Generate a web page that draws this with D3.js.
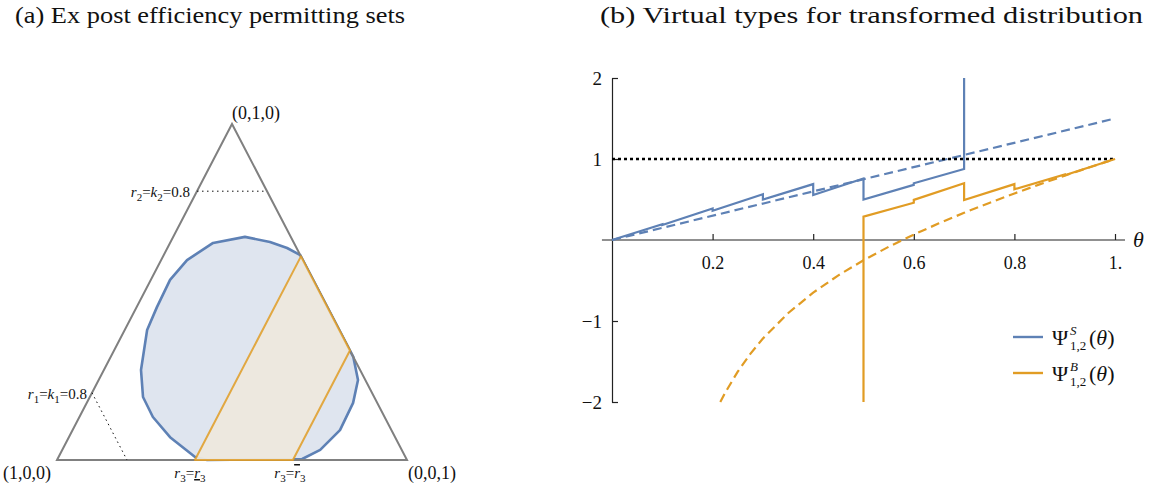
<!DOCTYPE html>
<html><head><meta charset="utf-8">
<script src="https://cdn.jsdelivr.net/npm/d3@7"></script>
<style>
body{margin:0;background:#fff}
svg{display:block}
text{font-family:"Liberation Serif","Times New Roman",serif;fill:#111}
</style>
</head><body>
<svg id="c" width="1152" height="491"></svg>
<script>
// ---------- data: panel (a) ----------
const titles = ["(a) Ex post efficiency permitting sets", "(b) Virtual types for transformed distribution"];
const vertices = [[1,0,0],[0,1,0],[0,0,1]];
const vertexLabels = ["(1,0,0)","(0,1,0)","(0,0,1)"];
// feasible blob in barycentric coordinates (r1, r2, r3)
const blob = [
  [0.13,0.664,0.205],[0.067,0.649,0.284],[0.027,0.631,0.342],[0,0.61,0.39],
  [0,0.47,0.53],[0,0.333,0.667],[0,0.307,0.693],[0.021,0.238,0.741],
  [0.069,0.170,0.761],[0.147,0.089,0.764],[0.233,0.030,0.737],[0.298,0.003,0.699],
  [0.571,0,0.429],[0.601,0.009,0.39],[0.643,0.068,0.289],[0.662,0.128,0.21],
  [0.66,0.1875,0.152],[0.626,0.268,0.106],[0.549,0.387,0.064],[0.487,0.455,0.058],
  [0.409,0.536,0.055],[0.331,0.595,0.074],[0.231,0.646,0.123]
];
const r3Low = 0.394, r3High = 0.674;
const kLevel = 0.8;

// ---------- data: panel (b) ----------
const thetaTicks = [0.2,0.4,0.6,0.8,1];
const thetaTickLabels = ["0.2","0.4","0.6","0.8","1."];
const yTicks = [-2,-1,1,2];
const yTickLabels = ["−2","−1","1","2"];
const efficiencyLine = [[0,1],[1,1]];
const sellerBenchmark = [[0,0],[1,1.5]];
const sellerVirtual = [
  [0,0],[0.1,0.195],[0.1,0.185],[0.2,0.39],[0.2,0.36],[0.3,0.565],[0.3,0.50],
  [0.4,0.69],[0.4,0.556],[0.5,0.76],[0.5,0.50],[0.6,0.68],[0.6,0.70],[0.7,0.877],[0.7,2.0]
];
const buyerVirtual = [
  [0.5,-2],[0.5,0.288],[0.6,0.46],[0.6,0.495],[0.7,0.70],[0.7,0.494],
  [0.8,0.69],[0.8,0.626],[0.9,0.81],[0.9,0.80],[1,1]
];
const buyerBenchmark = [
  [0.2153,-2],[0.225,-1.885],[0.25,-1.625],[0.275,-1.406],[0.3,-1.217],[0.35,-0.904],
  [0.4,-0.65],[0.45,-0.436],[0.5,-0.25],[0.55,-0.084],[0.6,0.067],[0.65,0.206],
  [0.7,0.336],[0.75,0.458],[0.8,0.575],[0.85,0.687],[0.9,0.794],[0.95,0.899],[1,1]
];
const legendItems = [{sup:"S", color:"#5e81b5"},{sup:"B", color:"#e19c24"}];

const BLUE = "#5e81b5", ORANGE = "#e19c24";
const svg = d3.select("#c");

// titles
svg.append("text").attr("x",15).attr("y",23).style("font-size","23px")
  .attr("textLength",390).attr("lengthAdjust","spacingAndGlyphs").text(titles[0]);
svg.append("text").attr("x",600).attr("y",23).style("font-size","23px")
  .attr("textLength",543).attr("lengthAdjust","spacingAndGlyphs").text(titles[1]);

// ---------- panel (a) ----------
const bx = d3.scaleLinear().domain([0,1]).range([57,407]);
const by = d3.scaleLinear().domain([0,1]).range([460,124]);
const px = p => bx(p[2] + p[1]/2), py = p => by(p[1]);
const closed = d3.line().x(px).y(py).curve(d3.curveLinearClosed);
const open = d3.line().x(px).y(py);

const gA = svg.append("g");
gA.append("path").attr("d", closed(blob)).attr("fill","#dfe5ef")
  .attr("stroke",BLUE).attr("stroke-width",2.6).attr("stroke-linejoin","round");
gA.append("path").attr("d", closed(vertices)).attr("fill","none")
  .attr("stroke","#808080").attr("stroke-width",2);
const para = [[1-r3Low,0,r3Low],[0,1-r3Low,r3Low],[0,1-r3High,r3High],[1-r3High,0,r3High]];
gA.append("path").attr("d", closed(para)).attr("fill","#ede8dd").attr("fill-opacity",0.95)
  .attr("stroke",ORANGE).attr("stroke-width",2).attr("stroke-opacity",0.85).attr("stroke-linejoin","round");
// dotted level lines
gA.append("path").attr("d", open([[1-kLevel,kLevel,0],[0,kLevel,1-kLevel]]))
  .attr("stroke","#111").attr("stroke-width",1).attr("stroke-dasharray","1.5,3.5").attr("fill","none");
gA.append("path").attr("d", open([[kLevel,1-kLevel,0],[kLevel,0,1-kLevel]]))
  .attr("stroke","#111").attr("stroke-width",1).attr("stroke-dasharray","1.5,3.5").attr("fill","none");

// vertex labels
const vl = [[3,479],[232,119],[408,479]];
vertexLabels.forEach((t,i)=>{
  gA.append("text").attr("x",vl[i][0]).attr("y",vl[i][1]).style("font-size","18px").text(t);
});
// level labels
function levelLabel(x,y,idx){
  const t = gA.append("text").attr("x",x).attr("y",y).attr("text-anchor","end").style("font-size","15px");
  t.append("tspan").style("font-style","italic").text("r");
  t.append("tspan").attr("dy",4).style("font-size","11px").text(idx);
  t.append("tspan").attr("dy",-4).text("=");
  t.append("tspan").style("font-style","italic").text("k");
  t.append("tspan").attr("dy",4).style("font-size","11px").text(idx);
  t.append("tspan").attr("dy",-4).text("=" + kLevel);
}
levelLabel(190,197,"2");
levelLabel(87,399,"1");
function r3Label(cx,y,deco){
  const t = gA.append("text").attr("x",cx).attr("y",y).attr("text-anchor","middle").style("font-size","15px");
  t.append("tspan").style("font-style","italic").text("r");
  t.append("tspan").attr("dy",4).style("font-size","11px").text("3");
  t.append("tspan").attr("dy",-4).text("=");
  t.append("tspan").style("font-style","italic").style("text-decoration",deco).text("r");
  t.append("tspan").attr("dy",4).style("font-size","11px").text("3");
}
r3Label(bx(r3Low)-5,478,"underline");
r3Label(bx(r3High)-3,478,"overline");

// ---------- panel (b) ----------
const x = d3.scaleLinear().domain([0,1]).range([612,1115]);
const y = d3.scaleLinear().domain([-2,2]).range([402,78]);
const line = d3.line().x(d=>x(d[0])).y(d=>y(d[1]));
const gB = svg.append("g");

// x axis
const xAxis = d3.axisBottom(x).tickValues(thetaTicks)
  .tickFormat((d,i)=>thetaTickLabels[i]).tickSizeInner(-6).tickSizeOuter(0).tickPadding(16);
const gx = gB.append("g").attr("transform",`translate(0,${y(0)})`).call(xAxis);
gx.select(".domain").remove();
gx.append("line").attr("x1",x(-0.02)).attr("x2",x(1.02)).attr("stroke","#222").attr("stroke-width",1.2);
gx.selectAll(".tick line").attr("stroke","#222").attr("stroke-width",1.2);
gx.selectAll(".tick text").style("font-size","18px").attr("fill","#111")
  .style("font-family","'Liberation Serif',serif");
gB.append("text").attr("x",1133).attr("y",y(0)+7).style("font-size","22px")
  .style("font-style","italic").text("θ");

// y axis
const yAxis = d3.axisLeft(y).tickValues(yTicks).tickFormat((d,i)=>yTickLabels[i])
  .tickSizeInner(-6).tickSizeOuter(0).tickPadding(10);
const gy = gB.append("g").attr("transform",`translate(${x(0)},0)`).call(yAxis);
gy.select(".domain").attr("stroke","#222").attr("stroke-width",1.2);
gy.selectAll(".tick line").attr("stroke","#222").attr("stroke-width",1.2);
gy.selectAll(".tick text").style("font-size","19px").attr("fill","#111")
  .style("font-family","'Liberation Serif',serif");

// series
gB.append("path").attr("d",line(sellerBenchmark)).attr("fill","none")
  .attr("stroke",BLUE).attr("stroke-width",2.2).attr("stroke-dasharray","9,5");
gB.append("path").attr("d",line(buyerBenchmark)).attr("fill","none")
  .attr("stroke",ORANGE).attr("stroke-width",2.2).attr("stroke-dasharray","9,5");
gB.append("path").attr("d",line(efficiencyLine)).attr("fill","none")
  .attr("stroke","#000").attr("stroke-width",2.4).attr("stroke-dasharray","3,3");
gB.append("path").attr("d",line(sellerVirtual)).attr("fill","none")
  .attr("stroke",BLUE).attr("stroke-width",2.2).attr("stroke-linejoin","miter");
gB.append("path").attr("d",line(buyerVirtual)).attr("fill","none")
  .attr("stroke",ORANGE).attr("stroke-width",2.2).attr("stroke-linejoin","miter");

// legend
legendItems.forEach((it,i)=>{
  const g = gB.append("g").attr("transform",`translate(1013,${337+36*i})`);
  g.append("line").attr("x1",0).attr("x2",30).attr("stroke",it.color).attr("stroke-width",2.4);
  g.append("text").attr("x",39).attr("y",8).style("font-size","22px").text("Ψ");
  g.append("text").attr("x",57).attr("y",-2).style("font-size","13px").style("font-style","italic").text(it.sup);
  g.append("text").attr("x",57).attr("y",13).style("font-size","13px").text("1,2");
  const t = g.append("text").attr("x",76).attr("y",8).style("font-size","22px");
  t.append("tspan").text("(");
  t.append("tspan").style("font-style","italic").text("θ");
  t.append("tspan").text(")");
});
</script>
</body></html>
